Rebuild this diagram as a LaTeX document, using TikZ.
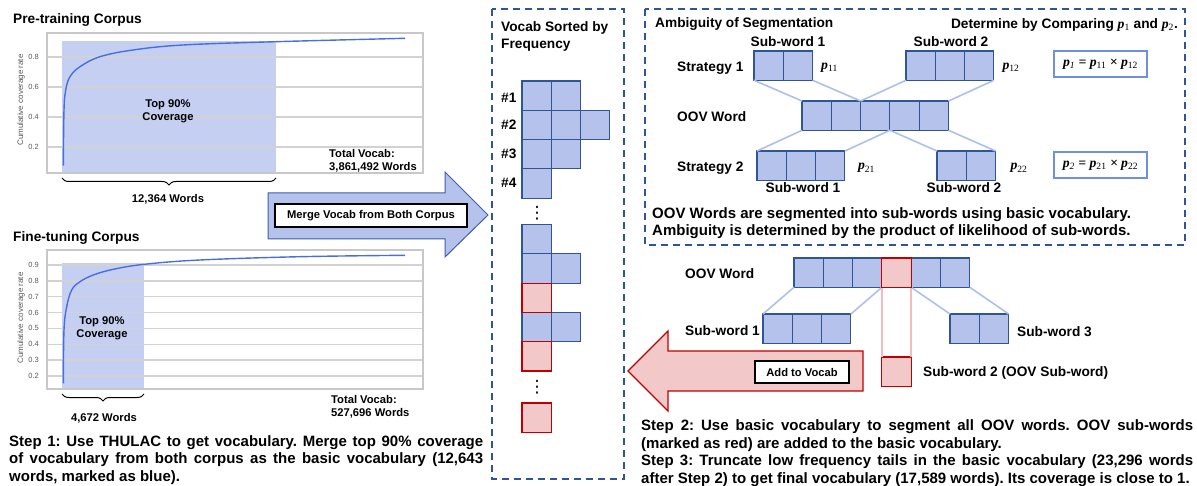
\documentclass[tikz,border=0pt]{standalone}
\usepackage{fontspec}
\setmainfont{Liberation Sans}
\newfontfamily\timesfont{Liberation Serif}
\newfontfamily\dotsfont{DejaVu Sans}
\usetikzlibrary{positioning,decorations.pathreplacing}
\setlength{\parindent}{0pt}
\frenchspacing

\definecolor{vocabblue}{HTML}{B4C2EC}
\definecolor{vocabedge}{HTML}{2F5597}
\definecolor{oovred}{HTML}{F2C8C8}
\definecolor{oovedge}{HTML}{C00000}
\definecolor{linkblue}{HTML}{AEC0EA}
\definecolor{linkred}{HTML}{F4BDBD}
\definecolor{dashedge}{HTML}{2F5597}
\definecolor{mergeedge}{HTML}{3F5FA8}
\definecolor{shadeblue}{HTML}{C4CFF2}
\definecolor{curveblue}{HTML}{4A6FDC}
\definecolor{gridgray}{HTML}{D2D2D2}
\definecolor{framegray}{HTML}{C8C8C8}
\definecolor{tickgray}{HTML}{595959}
\definecolor{formulaedge}{HTML}{6F8FE0}

\newcommand{\pvar}[1]{{\timesfont\bfseries\itshape p}\textsubscript{\timesfont\mdseries\upshape #1}}

\begin{document}
\begin{tikzpicture}[x=1pt, y=-1pt,
    vcell/.style={draw=vocabedge, fill=vocabblue, line width=1.1pt, minimum size=29.3pt, inner sep=0pt, outer sep=0pt},
    oovcell/.style={vcell, draw=oovedge, fill=oovred},
    link/.style={linkblue, line width=1.6pt},
    redlink/.style={linkred, line width=1.6pt},
    lbl/.style={font=\fontsize{13.7}{16.7}\selectfont\bfseries, inner sep=0pt, anchor=base west},
    smalllbl/.style={font=\fontsize{11.2}{13}\selectfont\bfseries, inner sep=0pt},
    ticklbl/.style={font=\fontsize{7.5}{9}\selectfont, text=tickgray, inner sep=0pt, anchor=east},
    axislbl/.style={font=\fontsize{8}{9}\selectfont, text=tickgray, inner sep=0pt, rotate=90},
    para/.style={font=\fontsize{15}{17.6}\selectfont\bfseries, inner sep=0pt, anchor=north west, align=justify,
        execute at begin node={\tolerance=9999\hbadness=10000\relax}},
    gapdots/.style={font=\fontsize{17}{20}\dotsfont, inner sep=0pt},
    dashbox/.style={dashedge, line width=1.6pt, dash pattern=on 7pt off 5pt},
    gridline/.style={gridgray, line width=1.5pt},
    covshade/.style={fill=shadeblue, inner sep=0pt, outer sep=0pt, anchor=north west},
    chartframe/.style={draw=framegray, line width=2.2pt, inner sep=0pt, anchor=north west},
    covcurve/.style={curveblue, line width=1.4pt},
    wordbrace/.style={decorate, decoration={brace, mirror, amplitude=7pt}, line width=1pt},
    tagbox/.style={draw=black, fill=white, line width=1.3pt, inner sep=0pt, font=\fontsize{11.2}{13}\selectfont\bfseries},
    probbox/.style={draw=formulaedge, fill=white, line width=1.4pt, inner sep=0pt, minimum width=93pt, minimum height=26pt,
        font=\fontsize{13.7}{16}\timesfont\bfseries\itshape},
  ]
  \useasboundingbox (0,0) rectangle (1197,486);

  % Pre-training corpus chart
  \node[lbl] (pretitle) at (13,23.9) {Pre-training Corpus};
  \node[covshade, minimum width=214pt, minimum height=131pt] (cov1) at (62,41) {};
  \draw[gridline] (46,57) -- (422,57) (46,87) -- (422,87) (46,117) -- (422,117) (46,147) -- (422,147);
  \node[chartframe, minimum width=376pt, minimum height=140pt] (chart1) at (46,32) {};
  \draw[covcurve] plot[smooth, tension=0.6] coordinates {(63.3,165.7) (64,110) (65.7,90) (70,76.7) (80,66.7) (100,56.7) (133,50) (183,45) (276,41.7) (405,38.3)};
  \node[ticklbl] (pa8) at (39,57) {0.8};
  \node[ticklbl] (pa6) at (39,87) {0.6};
  \node[ticklbl] (pa4) at (39,117) {0.4};
  \node[ticklbl] (pa2) at (39,147) {0.2};
  \node[axislbl] (paxis) at (21,100) {Cumulative coverage rate};
  \node[smalllbl, align=center, anchor=north, font=\fontsize{11.2}{12.6}\selectfont\bfseries] (pretop) at (168,99.5) {Top 90\%\\Coverage};
  \node[smalllbl, align=left, anchor=north west] (pretotal) at (329,148.8) {Total Vocab:\\3,861,492 Words};
  \draw[wordbrace] ([yshift=-6pt]cov1.south west) -- ([yshift=-6pt]cov1.south east);
  \node[smalllbl, anchor=base] (prewords) at (168,203) {12,364 Words};

  % Fine-tuning corpus chart
  \node[lbl] (finetitle) at (13,241.6) {Fine-tuning Corpus};
  \node[covshade, minimum width=82pt, minimum height=125pt] (cov2) at (62,263) {};
  \draw[gridline] (46,376) -- (422,376) (46,360.1) -- (422,360.1) (46,344.3) -- (422,344.3) (46,328.4) -- (422,328.4)
    (46,312.6) -- (422,312.6) (46,296.7) -- (422,296.7) (46,280.8) -- (422,280.8) (46,265) -- (422,265);
  \node[chartframe, minimum width=376pt, minimum height=139pt] (chart2) at (46,249) {};
  \draw[covcurve] plot[smooth, tension=0.6] coordinates {(63.3,383.3) (64,330) (66.7,306.7) (71.7,290) (80,281.7) (93.3,275) (113.3,269.3) (144.3,264.3) (200,260) (300,256.7) (405,255.3)};
  \node[ticklbl] (fa9) at (39,265) {0.9};
  \node[ticklbl] (fa8) at (39,280.8) {0.8};
  \node[ticklbl] (fa7) at (39,296.7) {0.7};
  \node[ticklbl] (fa6) at (39,312.6) {0.6};
  \node[ticklbl] (fa5) at (39,328.4) {0.5};
  \node[ticklbl] (fa4) at (39,344.3) {0.4};
  \node[ticklbl] (fa3) at (39,360.1) {0.3};
  \node[ticklbl] (fa2) at (39,376) {0.2};
  \node[axislbl] (faxis) at (21,318) {Cumulative coverage rate};
  \node[smalllbl, align=center, anchor=north, font=\fontsize{11.2}{12.6}\selectfont\bfseries] (finetop) at (102,316.5) {Top 90\%\\Coverage};
  \node[smalllbl, align=left, anchor=north west] (finetotal) at (331,395.1) {Total Vocab:\\527,696 Words};
  \draw[wordbrace] ([yshift=-6pt]cov2.south west) -- ([yshift=-6pt]cov2.south east);
  \node[smalllbl, anchor=base] (finewords) at (104,421) {4,672 Words};

  % Step 1
  \node[para, text width=474pt] (step1) at (9,435) {Step 1: Use THULAC to get vocabulary. Merge top 90\% coverage\linebreak
    of vocabulary from both corpus as the basic vocabulary (12,643\linebreak words, marked as blue).};

  % Merge arrow
  \draw[mergeedge, fill=vocabblue, line width=1pt] (268,193) -- (445,193) -- (445,172) -- (488,215) -- (445,257) -- (445,239) -- (268,239) -- cycle;
  \node[tagbox, minimum width=192pt, minimum height=23pt] (merge) at (371,215.5) {Merge Vocab from Both Corpus};

  % Vocab sorted by frequency
  \draw[dashbox] (492,9) rectangle (624,479);
  \node[lbl, align=left, anchor=north west] (sorted) at (501,21.6) {Vocab Sorted by\\Frequency};
  \node[vcell] (v11) at (536.65,95.65) {};
  \node[vcell, right=0pt of v11] (v12) {};
  \node[vcell, below=0pt of v11] (v21) {};
  \node[vcell, right=0pt of v21] (v22) {};
  \node[vcell, right=0pt of v22] (v23) {};
  \node[vcell, below=0pt of v21] (v31) {};
  \node[vcell, right=0pt of v31] (v32) {};
  \node[vcell, below=0pt of v31] (v41) {};
  \node[vcell] (v51) at (536.65,239.15) {};
  \node[vcell, below=0pt of v51] (v61) {};
  \node[vcell, right=0pt of v61] (v62) {};
  \node[oovcell, below=0pt of v61] (v71) {};
  \node[vcell, below=0pt of v71] (v81) {};
  \node[vcell, right=0pt of v81] (v82) {};
  \node[oovcell, below=0pt of v81] (v91) {};
  \node[oovcell] (v101) at (536.65,417.65) {};
  \node[lbl] (rank1) at (501,102.9) {\#1};
  \node[lbl] (rank2) at (501,129.9) {\#2};
  \node[lbl] (rank3) at (501,158.9) {\#3};
  \node[lbl] (rank4) at (501,187.9) {\#4};
  \node[gapdots] (gap1) at (537,213) {⋮};
  \node[gapdots] (gap2) at (537,387) {⋮};

  % Ambiguity of segmentation
  \draw[dashbox] (645,9) rectangle (1185,245);
  \node[lbl] (ambtitle) at (655,27.9) {Ambiguity of Segmentation};
  \node[lbl, anchor=base east] (compare) at (1178,28.7) {Determine by Comparing \pvar{1} and \pvar{2}.};
  \node[vcell] (s1a1) at (768.65,65.65) {};
  \node[vcell, right=0pt of s1a1] (s1a2) {};
  \node[vcell] (s1b1) at (920.65,65.65) {};
  \node[vcell, right=0pt of s1b1] (s1b2) {};
  \node[vcell, right=0pt of s1b2] (s1b3) {};
  \node[vcell] (oov1) at (816.65,115.65) {};
  \node[vcell, right=0pt of oov1] (oov2) {};
  \node[vcell, right=0pt of oov2] (oov3) {};
  \node[vcell, right=0pt of oov3] (oov4) {};
  \node[vcell, right=0pt of oov4] (oov5) {};
  \node[vcell] (s2a1) at (771.65,165.65) {};
  \node[vcell, right=0pt of s2a1] (s2a2) {};
  \node[vcell, right=0pt of s2a2] (s2a3) {};
  \node[vcell] (s2b1) at (951.65,165.65) {};
  \node[vcell, right=0pt of s2b1] (s2b2) {};
  \draw[link] (s1a1.south west) -- (oov1.north west) (s1a2.south east) -- (oov2.north east);
  \draw[link] (s1b1.south west) -- (oov3.north west) (s1b3.south east) -- (oov5.north east);
  \draw[link] (oov1.south west) -- (s2a1.north west) (oov3.south east) -- (s2a3.north east);
  \draw[link] (oov4.south west) -- (s2b1.north west) (oov5.south east) -- (s2b2.north east);
  \node[lbl, anchor=base] (sw11) at (788,46.9) {Sub-word 1};
  \node[lbl, anchor=base] (sw12) at (951,46.9) {Sub-word 2};
  \node[lbl, anchor=base] (sw21) at (803,192.9) {Sub-word 1};
  \node[lbl, anchor=base] (sw22) at (964,192.9) {Sub-word 2};
  \node[lbl] (strat1) at (677,71.9) {Strategy 1};
  \node[lbl] (oovlbl) at (677,121.9) {OOV Word};
  \node[lbl] (strat2) at (677,171.9) {Strategy 2};
  \node[lbl, anchor=base] (p11) at (829.5,69.5) {\pvar{11}};
  \node[lbl, anchor=base] (p12) at (1011,69.5) {\pvar{12}};
  \node[lbl, anchor=base] (p21) at (866.5,170) {\pvar{21}};
  \node[lbl, anchor=base] (p22) at (1019,170) {\pvar{22}};
  \node[probbox] (prob1) at (1100.5,64) {\pvar{\itshape 1} = \pvar{11} × \pvar{12}};
  \node[probbox] (prob2) at (1100.5,165) {\pvar{\itshape 2} = \pvar{21} × \pvar{22}};
  \node[lbl, align=left, anchor=north west, font=\fontsize{15}{17}\selectfont\bfseries] (ambnote) at (652,207.6)
    {OOV Words are segmented into sub-words using basic vocabulary.\\Ambiguity is determined by the product of likelihood of sub-words.};

  % OOV sub-word example
  \node[vcell] (w1) at (808.65,272.65) {};
  \node[vcell, right=0pt of w1] (w2) {};
  \node[vcell, right=0pt of w2] (w3) {};
  \node[oovcell, right=0pt of w3] (w4) {};
  \node[vcell, right=0pt of w4] (w5) {};
  \node[vcell, right=0pt of w5] (w6) {};
  \node[vcell] (t1) at (777.65,328.65) {};
  \node[vcell, right=0pt of t1] (t2) {};
  \node[vcell, right=0pt of t2] (t3) {};
  \node[vcell] (u1) at (964.65,328.65) {};
  \node[vcell, right=0pt of u1] (u2) {};
  \node[oovcell, below=69.7pt of w4] (r1) {};
  \draw[link] (w1.south west) -- (t1.north west) (w3.south east) -- (t3.north east);
  \draw[link] (w5.south west) -- (u1.north west) (w6.south east) -- (u2.north east);
  \draw[redlink] (w4.south west) -- (r1.north west) (w4.south east) -- (r1.north east);
  \draw[oovedge, line width=1.1pt] (v71.north west) rectangle (v71.south east) (v91.north west) rectangle (v91.south east)
    (w4.north west) rectangle (w4.south east);
  \node[lbl] (oovlbl2) at (685,278.9) {OOV Word};
  \node[lbl] (sub1) at (685,335.9) {Sub-word 1};
  \node[lbl] (sub3) at (1017,336.9) {Sub-word 3};
  \node[lbl] (sub2) at (923,376.9) {Sub-word 2 (OOV Sub-word)};

  % Add to vocab arrow
  \draw[oovedge, fill=oovred, line width=1.2pt] (628,371) -- (668,331) -- (668,351) -- (863,351) -- (863,391) -- (668,391) -- (668,411) -- cycle;
  \node[tagbox, minimum width=94pt, minimum height=22pt] (addvocab) at (802,372) {Add to Vocab};

  % Step 2 and 3
  \node[para, text width=552pt] (step23) at (641,419.4) {Step 2: Use basic vocabulary to segment all OOV words. OOV sub-words\linebreak
    (marked as red) are added to the basic vocabulary.\par
    Step 3: Truncate low frequency tails in the basic vocabulary (23,296 words\linebreak
    after Step 2) to get final vocabulary (17,589 words). Its coverage is close to 1.};
\end{tikzpicture}
\end{document}
